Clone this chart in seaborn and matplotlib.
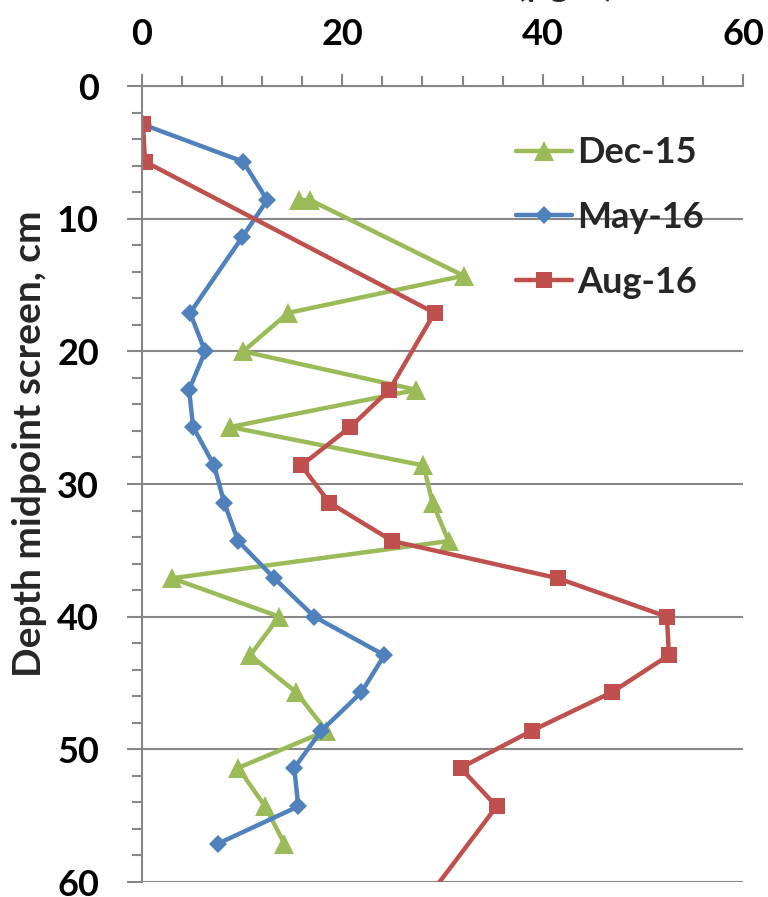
import numpy as np
import pandas as pd
import matplotlib
matplotlib.use("Agg")
import matplotlib.pyplot as plt
from matplotlib.ticker import MultipleLocator
import seaborn as sns

sns.set_theme(style="white")
plt.rcParams["font.family"] = ["Lato", "DejaVu Sans"]
plt.rcParams["font.weight"] = "bold"

# depth (cm) and concentration readings per campaign
dec15_depth = [8.6, 8.6, 14.3, 17.1, 20.0, 22.9, 25.7, 28.6, 31.4, 34.3,
               37.1, 40.0, 42.9, 45.7, 48.6, 51.4, 54.3, 57.1]
dec15_conc = [15.7, 16.8, 32.1, 14.6, 10.1, 27.4, 8.8, 28.1, 29.0, 30.6,
              3.0, 13.7, 10.8, 15.4, 18.4, 9.6, 12.3, 14.2]

may16_depth = [2.9, 5.7, 8.6, 11.4, 17.1, 20.0, 22.9, 25.7, 28.6, 31.4,
               34.3, 37.1, 40.0, 42.9, 45.7, 48.6, 51.4, 54.3, 57.1]
may16_conc = [0.1, 10.1, 12.5, 10.0, 4.8, 6.3, 4.7, 5.1, 7.2, 8.2,
              9.6, 13.2, 17.2, 24.2, 21.9, 17.9, 15.2, 15.6, 7.6]

aug16_depth = [2.9, 5.7, 17.1, 22.9, 25.7, 28.6, 31.4, 34.3, 37.1, 40.0,
               42.9, 45.7, 48.6, 51.4, 54.3, 62.9]
aug16_conc = [0.1, 0.3, 29.2, 24.7, 20.8, 15.9, 18.7, 25.0, 41.5, 52.4,
              52.6, 46.9, 38.9, 31.8, 35.4, 26.8]

series = [
    ("Dec-15", dec15_conc, dec15_depth, "#9BBB59", "^", 15),
    ("May-16", may16_conc, may16_depth, "#4F81BD", "D", 9),
    ("Aug-16", aug16_conc, aug16_depth, "#C0504D", "s", 11),
]

FS = 26

fig = plt.figure(figsize=(7.68, 8.97), dpi=100)
ax = fig.add_axes([0.1849, 0.0167, 0.7826, 0.8874])

for name, conc, depth, color, marker, ms in series:
    df = pd.DataFrame({"conc": conc, "depth": depth})
    sns.lineplot(data=df, x="conc", y="depth", ax=ax, sort=False,
                 estimator=None, color=color, linewidth=3.2,
                 marker=marker, markersize=ms, markeredgewidth=0,
                 label=name, clip_on=True)

ax.set_xlim(0, 60)
ax.set_ylim(60, 0)
ax.xaxis.tick_top()
ax.xaxis.set_label_position("top")
ax.xaxis.set_major_locator(MultipleLocator(20))
ax.xaxis.set_minor_locator(MultipleLocator(4))
ax.yaxis.set_major_locator(MultipleLocator(10))
ax.yaxis.set_minor_locator(MultipleLocator(2))

ax.grid(False)
ax.yaxis.grid(True, which="major", color="#878787", linewidth=1.5)
for side in ["right", "bottom"]:
    ax.spines[side].set_visible(False)
for side in ["left", "top"]:
    ax.spines[side].set_color("#878787")
    ax.spines[side].set_linewidth(1.5)

ax.tick_params(axis="both", which="both", direction="out", color="#878787",
               width=1.5, labelsize=FS, labelcolor="black")
ax.tick_params(axis="x", which="major", length=9, pad=16, top=True, bottom=False)
ax.tick_params(axis="x", which="minor", length=7, top=True, bottom=False)
ax.tick_params(axis="y", which="major", length=11, pad=20, left=True)
ax.tick_params(axis="y", which="minor", length=7, left=True)
for lab in ax.get_xticklabels() + ax.get_yticklabels():
    lab.set_fontweight("bold")

ax.set_ylabel("Depth midpoint screen, cm", fontsize=28, fontweight="bold")
ax.yaxis.set_label_coords(-0.158, 0.551)
ax.set_xlabel("")
fig.text(0.58, 1.004, "Concentration (\u00b5g/L)", ha="center", va="baseline",
         fontsize=FS, fontweight="bold")

leg = ax.legend(loc="upper left", bbox_to_anchor=(0.622, 0.937), frameon=False,
                fontsize=FS, handlelength=1.55, handletextpad=0.15,
                labelspacing=0.88, borderaxespad=0, borderpad=0)
for t in leg.get_texts():
    t.set_fontweight("bold")

fig.savefig("out.png", dpi=100)
